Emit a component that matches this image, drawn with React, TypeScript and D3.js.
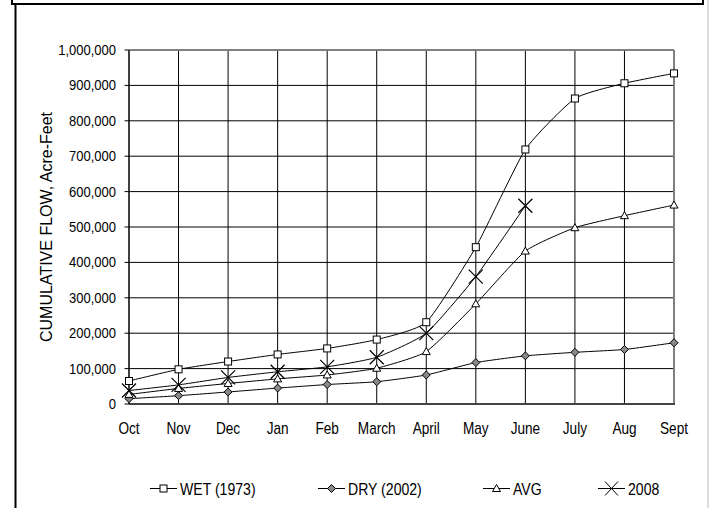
import React from "react";
import * as d3 from "d3";

const months = ["Oct", "Nov", "Dec", "Jan", "Feb", "March", "April", "May", "June", "July", "Aug", "Sept"];
const wet = [65000, 98000, 120000, 140000, 157000, 182000, 231000, 443000, 719000, 863000, 906000, 934000];
const dry = [15000, 23500, 34000, 45000, 55000, 63000, 82000, 117000, 136000, 146000, 154000, 173000];
const avg = [27000, 44000, 58000, 71000, 82000, 101000, 148000, 283000, 432000, 498000, 532000, 562000];
const y2008 = [38000, 54000, 75000, 91000, 105000, 132000, 200000, 360000, 560000];
const yTicks = [0, 100000, 200000, 300000, 400000, 500000, 600000, 700000, 800000, 900000, 1000000];

const W = 709, H = 508;
const left = 129, right = 674, top = 50, bottom = 404;
const FONT = "Liberation Sans, Arial, sans-serif";

type Marker = "square" | "diamond" | "triangle" | "x";

function MarkerShape({ type, x, y }: { type: Marker; x: number; y: number }) {
  if (type === "square") return <rect x={x - 3.5} y={y - 3.5} width={7} height={7} fill="white" stroke="black" strokeWidth={1} />;
  if (type === "diamond") return <path d={`M${x},${y - 4}L${x + 4},${y}L${x},${y + 4}L${x - 4},${y}Z`} fill="#888" stroke="black" strokeWidth={1} />;
  if (type === "triangle") return <path d={`M${x},${y - 4}L${x + 4},${y + 3}L${x - 4},${y + 3}Z`} fill="white" stroke="black" strokeWidth={1} />;
  return <path d={`M${x - 7},${y - 7}L${x + 7},${y + 7}M${x - 7},${y + 7}L${x + 7},${y - 7}`} stroke="black" strokeWidth={1.2} fill="none" />;
}

function SText({ x, y, sx, size, anchor, children }: { x: number; y: number; sx: number; size: number; anchor: string; children: React.ReactNode }) {
  return (
    <text transform={`translate(${x},${y}) scale(${sx},1)`} textAnchor={anchor as any} fontFamily={FONT} fontSize={size} fill="black">
      {children}
    </text>
  );
}

export default function App() {
  const x = d3.scalePoint<string>().domain(months).range([left, right]);
  const y = d3.scaleLinear().domain([0, 1000000]).range([bottom, top]);
  const fmt = d3.format(",");
  const line = d3.line<number>().x((_, i) => x(months[i])!).y((d) => y(d)).curve(d3.curveCardinal.tension(0.5));

  const series: { name: string; data: number[]; marker: Marker; lx: number }[] = [
    { name: "WET (1973)", data: wet, marker: "square", lx: 150 },
    { name: "DRY (2002)", data: dry, marker: "diamond", lx: 318 },
    { name: "AVG", data: avg, marker: "triangle", lx: 483 },
    { name: "2008", data: y2008, marker: "x", lx: 598 },
  ];
  const LY = 488.5;

  return (
    <svg width={W} height={H} style={{ position: "absolute", left: 0, top: 0, background: "white" }}>
      <rect x={0} y={0} width={W} height={H} fill="white" />
      {/* frame */}
      <line x1={12} y1={4} x2={704} y2={4} stroke="black" strokeWidth={2} />
      <line x1={12} y1={0} x2={12} y2={5} stroke="black" strokeWidth={2} />
      <line x1={703} y1={0} x2={703} y2={5} stroke="black" strokeWidth={2} />
      <line x1={15.5} y1={4} x2={15.5} y2={H} stroke="black" strokeWidth={2} />
      <line x1={708} y1={0} x2={708} y2={H} stroke="#bbb" strokeWidth={1} />

      {/* gridlines */}
      {yTicks.map((t) => (
        <line key={"h" + t} x1={left - 4.5} x2={right} y1={y(t)} y2={y(t)} stroke="black" strokeWidth={1} />
      ))}
      {months.map((m) => (
        <line key={"v" + m} x1={x(m)} x2={x(m)} y1={top} y2={bottom} stroke="black" strokeWidth={1} />
      ))}
      <line x1={left} x2={right} y1={top} y2={top} stroke="#808080" strokeWidth={2} />
      <line x1={right} x2={right} y1={top} y2={bottom} stroke="#808080" strokeWidth={2} />
      <line x1={left} x2={right + 1} y1={bottom} y2={bottom} stroke="#444" strokeWidth={2} />
      <line x1={left} x2={left} y1={top} y2={bottom} stroke="black" strokeWidth={1} />

      {/* y labels */}
      {yTicks.map((t) => (
        <SText key={"yl" + t} x={116} y={y(t) + 5} sx={0.93} size={14} anchor="end">
          {fmt(t)}
        </SText>
      ))}
      {months.map((m) => (
        <SText key={"xl" + m} x={x(m)!} y={433.5} sx={0.85} size={16} anchor="middle">
          {m}
        </SText>
      ))}
      <text transform={`translate(51.5,227) rotate(-90)`} textAnchor="middle" fontFamily={FONT} fontSize={16} fill="black">
        CUMULATIVE FLOW, Acre-Feet
      </text>

      {/* series */}
      {series.map((s) => (
        <g key={s.name}>
          <path d={line(s.data) || ""} fill="none" stroke="black" strokeWidth={1} />
          {s.data.map((v, i) => (
            <MarkerShape key={i} type={s.marker} x={x(months[i])!} y={y(v)} />
          ))}
        </g>
      ))}

      {/* legend */}
      {series.map((s) => (
        <g key={"lg" + s.name}>
          <line x1={s.lx} x2={s.lx + 27} y1={LY} y2={LY} stroke="black" strokeWidth={1} />
          {s.marker === "x" ? (
            <path d={`M${s.lx + 7},${LY - 7}L${s.lx + 20},${LY + 7}M${s.lx + 7},${LY + 7}L${s.lx + 20},${LY - 7}`} stroke="black" strokeWidth={1} />
          ) : (
            <MarkerShape type={s.marker} x={s.lx + 13.5} y={LY} />
          )}
          <SText x={s.lx + 30} y={LY + 6} sx={0.88} size={16} anchor="start">
            {s.name}
          </SText>
        </g>
      ))}
    </svg>
  );
}
